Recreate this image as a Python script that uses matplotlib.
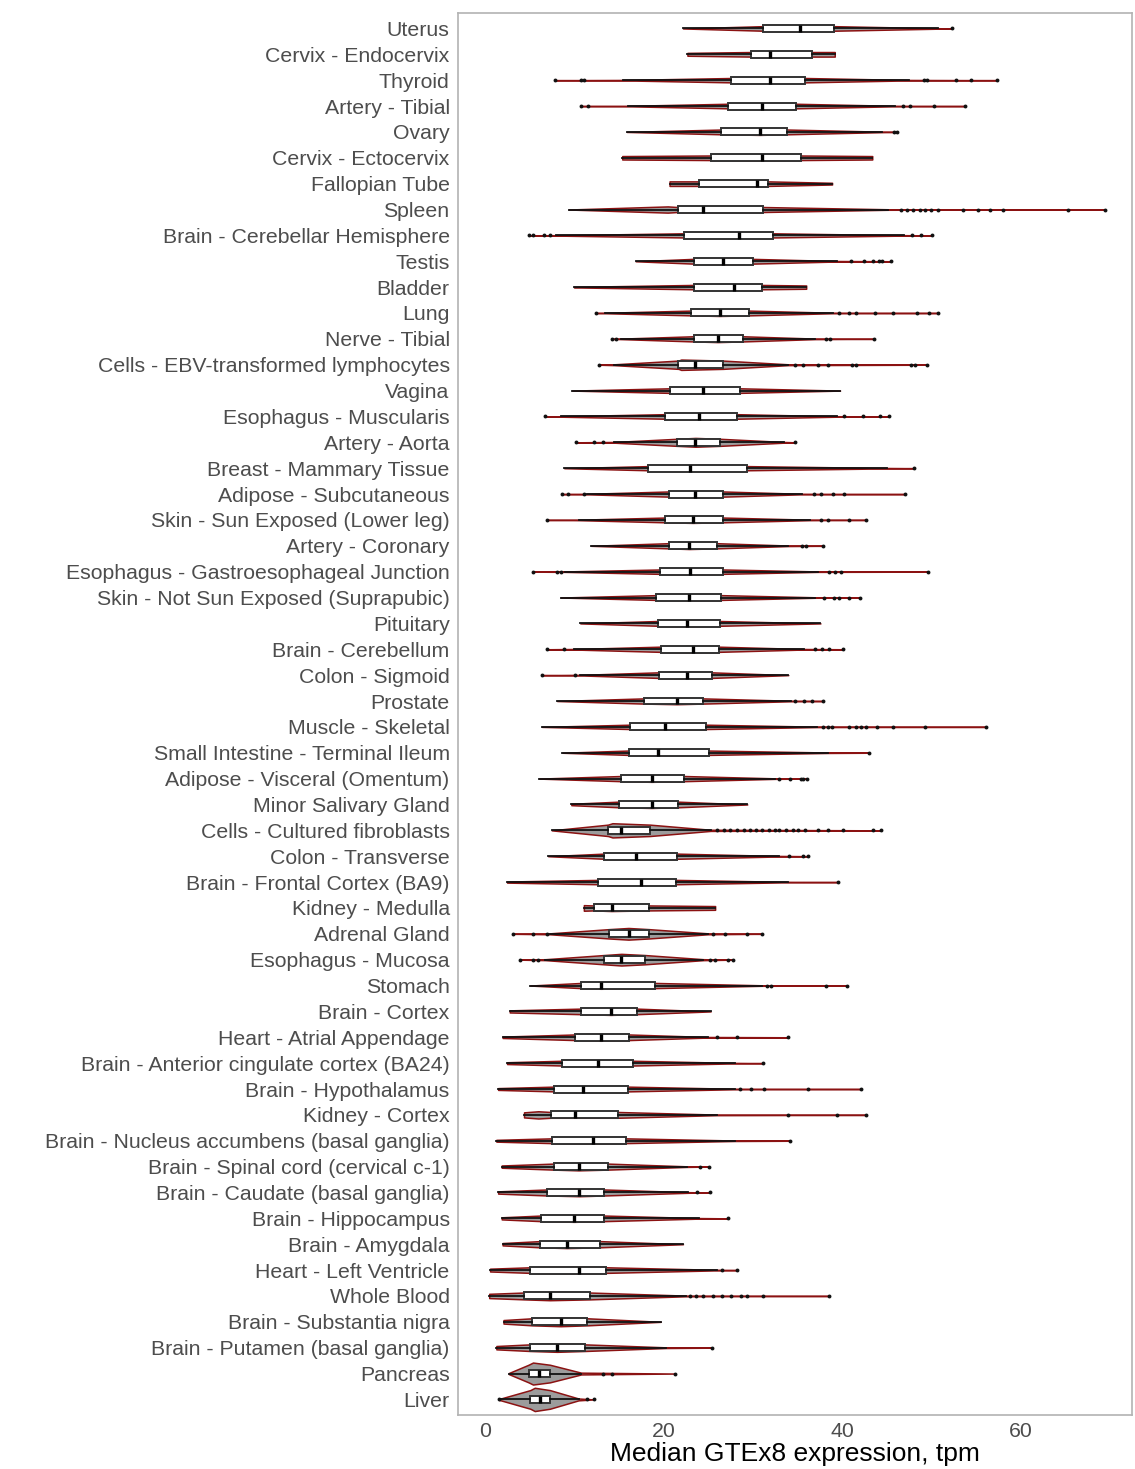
import matplotlib
matplotlib.use("Agg")
import matplotlib.pyplot as plt
import numpy as np

# tissues listed top to bottom
tissues = [
    "Uterus", "Cervix - Endocervix", "Thyroid", "Artery - Tibial", "Ovary",
    "Cervix - Ectocervix", "Fallopian Tube", "Spleen", "Brain - Cerebellar Hemisphere",
    "Testis", "Bladder", "Lung", "Nerve - Tibial", "Cells - EBV-transformed lymphocytes",
    "Vagina", "Esophagus - Muscularis", "Artery - Aorta", "Breast - Mammary Tissue",
    "Adipose - Subcutaneous", "Skin - Sun Exposed (Lower leg)", "Artery - Coronary",
    "Esophagus - Gastroesophageal Junction", "Skin - Not Sun Exposed (Suprapubic)",
    "Pituitary", "Brain - Cerebellum", "Colon - Sigmoid", "Prostate", "Muscle - Skeletal",
    "Small Intestine - Terminal Ileum", "Adipose - Visceral (Omentum)", "Minor Salivary Gland",
    "Cells - Cultured fibroblasts", "Colon - Transverse", "Brain - Frontal Cortex (BA9)",
    "Kidney - Medulla", "Adrenal Gland", "Esophagus - Mucosa", "Stomach", "Brain - Cortex",
    "Heart - Atrial Appendage", "Brain - Anterior cingulate cortex (BA24)",
    "Brain - Hypothalamus", "Kidney - Cortex", "Brain - Nucleus accumbens (basal ganglia)",
    "Brain - Spinal cord (cervical c-1)", "Brain - Caudate (basal ganglia)",
    "Brain - Hippocampus", "Brain - Amygdala", "Heart - Left Ventricle", "Whole Blood",
    "Brain - Substantia nigra", "Brain - Putamen (basal ganglia)", "Pancreas", "Liver",
]

q1 = [31.2, 29.8, 27.6, 27.2, 26.5, 25.3, 24.0, 21.6, 22.3, 23.4, 23.4, 23.1, 23.4, 21.7,
      20.7, 20.2, 21.5, 18.3, 20.6, 20.2, 20.6, 19.6, 19.2, 19.4, 19.7, 19.5, 17.8, 16.3,
      16.1, 15.3, 15.0, 13.8, 13.4, 12.7, 12.2, 13.9, 13.4, 10.8, 10.8, 10.1, 8.7, 7.8,
      7.4, 7.5, 7.7, 7.0, 6.3, 6.2, 5.1, 4.4, 5.3, 5.1, 4.9, 5.1]
med = [35.3, 32.0, 32.0, 31.0, 30.8, 31.1, 30.5, 24.5, 28.5, 26.7, 27.9, 26.3, 26.1, 23.6,
       24.5, 24.0, 23.6, 23.0, 23.6, 23.3, 22.9, 23.0, 22.9, 22.6, 23.3, 22.6, 21.5, 20.2,
       19.4, 18.7, 18.7, 15.3, 16.9, 17.5, 14.2, 16.1, 15.3, 13.0, 14.1, 13.0, 12.7, 11.0,
       10.1, 12.1, 10.5, 10.6, 10.0, 9.2, 10.6, 7.3, 8.5, 8.1, 6.1, 6.2]
q3 = [39.1, 36.6, 35.9, 34.9, 33.9, 35.4, 31.7, 31.2, 32.3, 30.0, 31.0, 29.6, 28.9, 26.7,
      28.6, 28.2, 26.4, 29.4, 26.7, 26.7, 26.0, 26.7, 26.5, 26.4, 26.2, 25.4, 24.5, 24.8,
      25.1, 22.3, 21.7, 18.5, 21.5, 21.4, 18.4, 18.4, 17.9, 19.1, 17.0, 16.2, 16.6, 16.0,
      14.9, 15.8, 13.8, 13.4, 13.4, 12.9, 13.6, 11.8, 11.5, 11.2, 7.3, 7.3]
whis_lo = [22.2, 22.7, 15.5, 16.0, 15.9, 15.4, 20.7, 9.4, 8.0, 16.9, 10.0, 13.5, 15.3, 14.5,
           9.8, 8.5, 14.5, 8.9, 11.5, 10.5, 11.9, 9.0, 8.5, 10.7, 10.0, 10.7, 8.1, 6.4,
           8.7, 6.1, 9.7, 7.5, 7.1, 2.5, 11.1, 7.3, 6.8, 5.1, 2.8, 2.0, 2.5, 1.5,
           4.4, 1.3, 1.9, 1.5, 1.9, 2.0, 0.6, 0.5, 2.1, 1.3, 2.7, 1.8]
whis_hi = [50.8, 39.2, 47.5, 46.0, 44.5, 43.4, 38.9, 45.2, 47.0, 39.5, 36.0, 39.0, 37.0, 34.0,
           39.8, 39.5, 33.5, 45.0, 35.5, 36.4, 34.0, 37.3, 37.0, 37.6, 35.8, 34.0, 34.3, 37.2,
           38.5, 32.5, 29.4, 25.3, 33.0, 34.0, 25.8, 25.0, 24.5, 31.0, 25.3, 25.0, 28.0, 28.0,
           26.0, 28.0, 22.6, 22.8, 24.0, 22.2, 26.0, 22.5, 19.7, 20.3, 10.8, 10.5]
fliers = [
    [52.3], [], [7.9, 10.8, 11.1, 49.2, 49.5, 52.8, 54.5, 57.4],
    [10.8, 11.6, 46.9, 47.6, 50.3, 53.8], [45.8, 46.2], [], [],
    [46.6, 47.3, 48.0, 48.7, 49.3, 50.0, 50.8, 53.6, 55.2, 56.6, 58.0, 65.3, 69.5],
    [5.0, 5.4, 6.6, 7.3, 47.9, 48.9, 50.1],
    [41.0, 42.5, 43.5, 44.2, 44.5, 45.5], [],
    [12.5, 39.7, 40.8, 41.6, 43.7, 45.7, 48.4, 49.8, 50.8],
    [14.2, 14.7, 38.2, 38.7, 43.6],
    [12.8, 34.7, 35.6, 37.3, 38.5, 41.1, 41.6, 47.7, 48.2, 49.5],
    [], [6.8, 40.2, 42.4, 44.3, 45.3], [10.2, 12.2, 13.2, 34.8], [48.1],
    [8.7, 9.3, 11.1, 36.9, 37.7, 39.0, 40.2, 47.1], [7.0, 37.7, 38.4, 40.8, 42.7],
    [35.5, 36.0, 37.9], [5.4, 8.1, 8.5, 38.6, 39.2, 39.9, 49.6],
    [38.0, 39.1, 39.7, 40.8, 42.0], [], [7.0, 8.9, 37.0, 37.8, 38.6, 40.1], [6.4, 10.1],
    [34.8, 35.8, 36.7, 37.9],
    [37.9, 38.4, 38.9, 40.8, 41.6, 42.1, 42.7, 43.9, 45.7, 49.3, 56.1],
    [43.0], [33.0, 34.2, 35.4, 35.7, 36.1], [],
    [26.0, 26.8, 27.5, 28.3, 29.0, 29.7, 30.4, 31.1, 31.8, 32.5, 33.0, 33.7, 34.5, 35.1,
     35.9, 37.3, 38.5, 40.1, 43.5, 44.4],
    [34.1, 35.6, 36.2], [39.6], [], [3.2, 5.4, 7.0, 25.6, 26.9, 29.4, 31.0],
    [4.0, 5.4, 6.0, 25.2, 25.8, 27.3, 27.8], [31.6, 32.1, 38.2, 40.6], [],
    [26.0, 28.3, 34.0], [31.2], [28.6, 29.8, 31.3, 36.2, 42.1], [34.0, 39.4, 42.7],
    [34.2], [24.1, 25.1], [23.8, 25.2], [27.2], [], [26.6, 28.3],
    [23.0, 23.7, 24.5, 25.6, 26.6, 27.6, 28.7, 29.4, 31.2, 38.6], [], [25.4],
    [13.2, 14.2, 21.3], [1.6, 11.5, 12.2],
]

# violin outline: peak thickness (in rows), where the peak sits (None = median),
# and relative thickness at the trimmed ends
violin_peak = [0.22, 0.22, 0.21, 0.22, 0.23, 0.22, 0.22, 0.24, 0.20, 0.23, 0.21, 0.23, 0.25,
               0.40, 0.22, 0.22, 0.34, 0.20, 0.25, 0.23, 0.25, 0.21, 0.23, 0.23, 0.25, 0.27,
               0.25, 0.21, 0.21, 0.25, 0.27, 0.55, 0.25, 0.21, 0.24, 0.45, 0.45, 0.25, 0.27,
               0.27, 0.23, 0.23, 0.28, 0.23, 0.29, 0.29, 0.27, 0.30, 0.27, 0.33, 0.34, 0.32,
               0.85, 0.90]
violin_mode = [None] * 7 + [20.5] + [None] * 5 + [22.0] + [None] * 17 + [14.3] + \
              [None] * 10 + [6.0] + [None] * 9 + [5.4, 5.6]
end_lo = [0, 0.5, 0, 0, 0, 0.6, 0.8, 0, 0, 0, 0.1, 0, 0, 0, 0, 0, 0, 0, 0, 0, 0, 0, 0, 0,
          0, 0, 0, 0, 0, 0, 0.2, 0, 0, 0.2, 0.9, 0, 0, 0, 0.3, 0.2, 0.3, 0.3, 0.7, 0.3, 0.3,
          0.3, 0.3, 0.3, 0.4, 0.5, 0.4, 0.4, 0.05, 0.05]
end_hi = [0, 0.8, 0, 0, 0, 0.6, 0.3, 0, 0, 0, 0.6, 0, 0, 0, 0, 0, 0, 0, 0, 0, 0, 0, 0, 0,
          0, 0, 0, 0, 0, 0, 0, 0, 0, 0, 0.6, 0, 0, 0, 0, 0, 0, 0, 0, 0, 0, 0, 0, 0, 0, 0,
          0, 0, 0, 0]

SHOULDER = 0.8   # relative thickness at the hinges
TAIL = 0.08      # relative thickness at the whisker ends

n = len(tissues)
pos = np.arange(n, 0, -1)

vpstats = []
box_stats = []
for i in range(n):
    lo_pts = [f for f in fliers[i] if f < q1[i]]
    hi_pts = [f for f in fliers[i] if f > q3[i]]
    vmin = min([whis_lo[i]] + lo_pts)
    vmax = max([whis_hi[i]] + hi_pts)
    mode = med[i] if violin_mode[i] is None else violin_mode[i]
    knots = {vmin: end_lo[i], vmax: end_hi[i]}
    for c, f in ((mode, 1.0), (q1[i], SHOULDER), (q3[i], SHOULDER),
                 (whis_lo[i], TAIL), (whis_hi[i], TAIL)):
        knots.setdefault(c, f)
    coords = np.array(sorted(knots))
    vals = np.array([knots[c] for c in coords])
    vpstats.append(dict(coords=coords, vals=vals, mean=med[i], median=med[i],
                        min=vmin, max=vmax))
    box_stats.append(dict(med=med[i], q1=q1[i], q3=q3[i], whislo=whis_lo[i],
                          whishi=whis_hi[i], fliers=fliers[i]))

plt.rcParams['font.family'] = ['Liberation Sans', 'DejaVu Sans']
fig = plt.figure(figsize=(11.35, 14.69), dpi=100)
ax = fig.add_axes([0.4035, 0.0368, 0.5939, 0.9544])

parts = ax.violin(vpstats, positions=pos, orientation='horizontal', widths=violin_peak,
                  showmeans=False, showextrema=False, showmedians=False)
for body in parts['bodies']:
    body.set_facecolor('#9c9c9c')
    body.set_edgecolor('#8b1212')
    body.set_linewidth(1.1)
    body.set_alpha(1)
    body.set_zorder(2)

ax.bxp(box_stats, positions=pos, widths=0.27, orientation='horizontal',
       patch_artist=True, showcaps=False, manage_ticks=False, zorder=3,
       boxprops=dict(facecolor='white', edgecolor='#333333', linewidth=1.4),
       medianprops=dict(color='black', linewidth=2.4),
       whiskerprops=dict(color='#111111', linewidth=1.3),
       flierprops=dict(marker='o', markersize=2.8, markerfacecolor='#111111',
                       markeredgecolor='none'))

ax.set_yticks(pos)
ax.set_yticklabels(tissues)
ax.set_ylim(0.4, n + 0.6)
ax.set_xlim(-3.0, 72.5)
ax.set_xticks([0, 20, 40, 60])
ax.tick_params(length=0, labelsize=15.3, colors='#4d4d4d')
ax.tick_params(axis='y', pad=6)
ax.tick_params(axis='x', pad=5)
for sp in ax.spines.values():
    sp.set_color('#b3b3b3')
    sp.set_linewidth(1.2)
ax.set_xlabel('Median GTEx8 expression, tpm', fontsize=19, color='black', labelpad=1)

fig.savefig('out.png', dpi=100)
